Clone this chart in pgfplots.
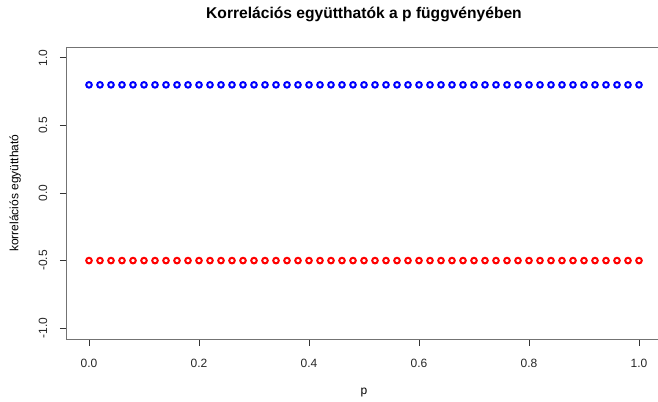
\documentclass[border=0pt]{standalone}
\usepackage{pgfplots}
\pgfplotsset{compat=1.18}
\usepackage{fontspec}
\setmainfont{Liberation Sans}
\begin{document}
\begin{tikzpicture}[x=1pt,y=1pt]
\begin{axis}[
  name=ax,
  scale only axis,
  width=445.5pt, height=219pt,
  xmin=-0.04, xmax=1.04, ymin=-1.08, ymax=1.08,
  axis line style={black!55, line width=0.75pt},
  xtick={0,0.2,0.4,0.6,0.8,1.0},
  ytick={-1,-0.5,0,0.5,1},
  xticklabels={0.0,0.2,0.4,0.6,0.8,1.0},
  yticklabels={-1.0,-0.5,0.0,0.5,1.0},
  tick align=outside,
  major tick length=5.25pt,
  tick style={black!80, line width=0.6pt},
  xtick pos=lower, ytick pos=left,
  /pgf/number format/assume math mode=true,
  tick label style={font=\fontsize{9}{10}\selectfont, text=black!85},
  xticklabel style={yshift=-6pt},
  yticklabel style={rotate=90, anchor=south, yshift=6pt},
  title={\textbf{Korrelációs együtthatók a p függvényében}},
  title style={font=\fontsize{11.7}{13}\selectfont, yshift=9pt},
  xlabel={p}, ylabel={korrelációs együttható},
  xlabel style={font=\fontsize{9}{10}\selectfont, yshift=-8.5pt},
  ylabel style={font=\fontsize{9}{10}\selectfont, yshift=6.5pt},
  clip=false,
]
\addplot[only marks, mark=o, mark size=2.1pt, blue, line width=1.5pt] coordinates {
(0.00,0.8)(0.02,0.8)(0.04,0.8)(0.06,0.8)(0.08,0.8)(0.10,0.8)(0.12,0.8)(0.14,0.8)(0.16,0.8)(0.18,0.8)
(0.20,0.8)(0.22,0.8)(0.24,0.8)(0.26,0.8)(0.28,0.8)(0.30,0.8)(0.32,0.8)(0.34,0.8)(0.36,0.8)(0.38,0.8)
(0.40,0.8)(0.42,0.8)(0.44,0.8)(0.46,0.8)(0.48,0.8)(0.50,0.8)(0.52,0.8)(0.54,0.8)(0.56,0.8)(0.58,0.8)
(0.60,0.8)(0.62,0.8)(0.64,0.8)(0.66,0.8)(0.68,0.8)(0.70,0.8)(0.72,0.8)(0.74,0.8)(0.76,0.8)(0.78,0.8)
(0.80,0.8)(0.82,0.8)(0.84,0.8)(0.86,0.8)(0.88,0.8)(0.90,0.8)(0.92,0.8)(0.94,0.8)(0.96,0.8)(0.98,0.8)
(1.00,0.8)};
\addplot[only marks, mark=o, mark size=2.1pt, red, line width=1.5pt] coordinates {
(0.00,-0.5)(0.02,-0.5)(0.04,-0.5)(0.06,-0.5)(0.08,-0.5)(0.10,-0.5)(0.12,-0.5)(0.14,-0.5)(0.16,-0.5)(0.18,-0.5)
(0.20,-0.5)(0.22,-0.5)(0.24,-0.5)(0.26,-0.5)(0.28,-0.5)(0.30,-0.5)(0.32,-0.5)(0.34,-0.5)(0.36,-0.5)(0.38,-0.5)
(0.40,-0.5)(0.42,-0.5)(0.44,-0.5)(0.46,-0.5)(0.48,-0.5)(0.50,-0.5)(0.52,-0.5)(0.54,-0.5)(0.56,-0.5)(0.58,-0.5)
(0.60,-0.5)(0.62,-0.5)(0.64,-0.5)(0.66,-0.5)(0.68,-0.5)(0.70,-0.5)(0.72,-0.5)(0.74,-0.5)(0.76,-0.5)(0.78,-0.5)
(0.80,-0.5)(0.82,-0.5)(0.84,-0.5)(0.86,-0.5)(0.88,-0.5)(0.90,-0.5)(0.92,-0.5)(0.94,-0.5)(0.96,-0.5)(0.98,-0.5)
(1.00,-0.5)};
\end{axis}
\pgfresetboundingbox
\path (ax.south west) ++(-50.25pt,-46.5pt) rectangle ++(493.5pt,300.75pt);
\end{tikzpicture}
\end{document}
